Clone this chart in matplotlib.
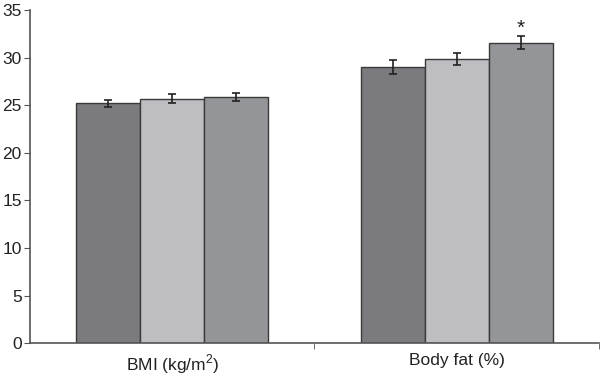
import numpy as np
import matplotlib
matplotlib.use('Agg')
import matplotlib.pyplot as plt

plt.rcParams['font.family'] = ['Liberation Sans', 'DejaVu Sans']
plt.rcParams['mathtext.fontset'] = 'custom'
plt.rcParams['mathtext.rm'] = 'Liberation Sans'

categories = ['BMI (kg/m$^\\mathrm{2}$)', 'Body fat (%)']
group1 = [25.2, 29.0]
group2 = [25.7, 29.9]
group3 = [25.9, 31.6]
err1 = [0.4, 0.75]
err2 = [0.45, 0.63]
err3 = [0.4, 0.65]
colors = ['#7b7b7f', '#bebec2', '#949598']

fig = plt.figure(figsize=(6, 3.77), dpi=100)
ax = fig.add_axes([0.05, 0.09, 0.948, 0.883])

x = np.arange(len(categories))
w = 0.225
for i, (vals, errs) in enumerate([(group1, err1), (group2, err2), (group3, err3)]):
    ax.bar(x + (i - 1) * w, vals, w, color=colors[i], edgecolor='#3a3a3a', linewidth=1.0,
           yerr=errs, error_kw=dict(ecolor='#222222', elinewidth=1.2, capsize=3, capthick=1.2))

# significance marker
ax.text(x[1] + w, group3[1] + err3[1] + 0.8, '*', ha='center', va='center', fontsize=15, color='#222222')

ax.set_xlim(-0.5, 1.5)
ax.set_ylim(0, 35)
ax.set_yticks(np.arange(0, 36, 5))
ax.set_xticks(x)
ax.set_xticklabels(categories, fontsize=12.5, color='#222222')
ax.set_xticks([0.5, 1.5], minor=True)
ax.tick_params(axis='x', which='major', length=0, pad=7)
ax.tick_params(axis='x', which='minor', length=4, color='#555555')
ax.tick_params(axis='y', length=4, color='#555555', labelsize=12.5, labelcolor='#222222', pad=2)
for s in ['top', 'right']:
    ax.spines[s].set_visible(False)
for s in ['left', 'bottom']:
    ax.spines[s].set_color('#555555')
    ax.spines[s].set_linewidth(1.2)

fig.savefig('out.png', dpi=100)
